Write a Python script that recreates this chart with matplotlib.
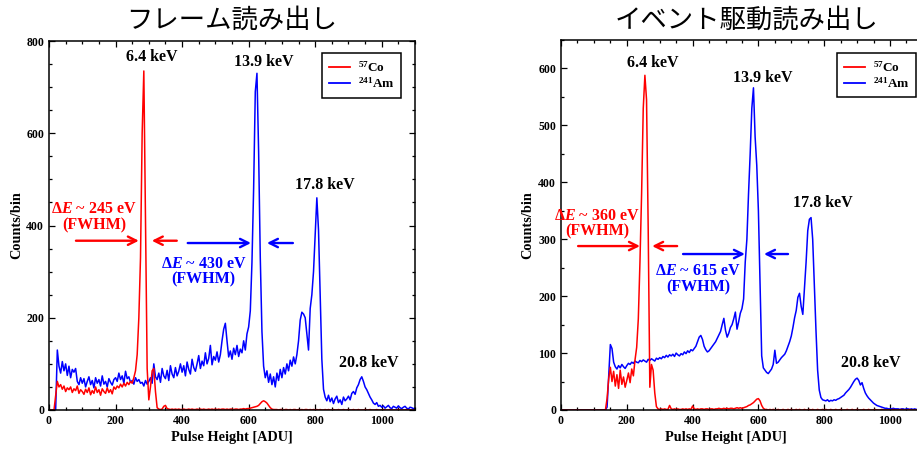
import numpy as np
import matplotlib
matplotlib.use("Agg")
import matplotlib.pyplot as plt
from matplotlib.ticker import MultipleLocator
from matplotlib.lines import Line2D

# ---------------- data (counts per 5-ADU bin, starting at 0 ADU) ----------------
BIN_WIDTH = 5

frame_co57 = [
    0, 0, 0, 0, 30, 62, 50, 55, 45, 52, 40, 48, 44, 50, 38, 46, 42, 52, 36, 44,
    40, 34, 45, 38, 48, 33, 42, 36, 50, 38, 44, 32, 46, 40, 36, 48, 38, 44, 35, 50,
    45, 52, 48, 56, 50, 58, 52, 60, 55, 62, 58, 70, 85, 120, 200, 330, 600, 735, 420, 90,
    22, 50, 85, 90, 40, 5, 2, 1, 2, 8, 10, 3, 2, 1, 2, 1, 2, 1, 2, 1,
    1, 2, 1, 1, 2, 1, 2, 1, 1, 2, 1, 2, 1, 2, 1, 1, 2, 1, 2, 1,
    2, 1, 2, 1, 2, 2, 1, 2, 1, 2, 2, 1, 2, 2, 1, 2, 2, 3, 2, 3,
    3, 4, 5, 6, 7, 8, 10, 14, 18, 20, 18, 15, 10, 5, 2, 1, 1, 1, 0, 1,
    1, 0, 1, 1, 0, 1, 0, 1, 1, 0, 1, 0, 1, 0, 1, 1, 0, 1, 0, 1,
    0, 1, 0, 1, 0, 0, 1, 0, 1, 0, 0, 1, 0, 0, 1, 0, 0, 1, 0, 0,
    1, 0, 0, 1, 0, 0, 1, 0, 0, 0, 1, 0, 0, 1, 0, 0, 0, 1, 0, 0,
    0, 1, 0, 0, 0, 1, 0, 0, 0, 0, 1, 0, 0, 0, 0, 1, 0, 0, 0, 0,
    0,
]

frame_am241 = [
    0, 0, 0, 0, 0, 130, 95, 80, 105, 85, 100, 75, 95, 70, 88, 82, 90, 62, 55, 70,
    58, 68, 50, 62, 72, 55, 64, 48, 70, 58, 66, 52, 74, 56, 62, 50, 68, 60, 54, 66,
    70, 62, 80, 66, 74, 58, 84, 68, 72, 60, 64, 56, 70, 62, 66, 58, 60, 52, 64, 56,
    62, 70, 58, 100, 72, 66, 80, 60, 90, 74, 68, 86, 64, 96, 78, 70, 92, 74, 84, 100,
    82, 96, 74, 104, 88, 78, 110, 92, 84, 100, 118, 90, 106, 96, 124, 100, 112, 140, 98, 116,
    108, 126, 104, 120, 150, 175, 188, 150, 115, 128, 110, 134, 120, 140, 116, 132, 124, 150, 130, 165,
    180, 215, 320, 480, 690, 730, 560, 330, 170, 95, 70, 85, 60, 78, 55, 72, 50, 80, 64, 88,
    70, 92, 78, 100, 85, 108, 95, 115, 100, 120, 150, 195, 212, 208, 200, 165, 130, 220, 250, 300,
    380, 460, 390, 250, 110, 45, 28, 20, 32, 18, 26, 14, 24, 30, 16, 22, 12, 28, 20, 24,
    30, 22, 36, 40, 34, 48, 55, 66, 72, 62, 50, 44, 36, 28, 22, 15, 12, 16, 8, 10,
    6, 9, 4, 7, 10, 5, 3, 8, 6, 4, 9, 5, 3, 6, 8, 4, 2, 6, 5, 3,
    4,
]

event_co57 = [
    0, 0, 0, 0, 0, 0, 0, 0, 0, 0, 0, 0, 0, 0, 0, 0, 0, 0, 0, 0,
    0, 0, 0, 0, 0, 0, 0, 0, 20, 55, 75, 50, 68, 42, 62, 38, 70, 45, 58, 40,
    52, 65, 48, 72, 60, 88, 110, 160, 260, 380, 530, 588, 545, 320, 40, 80, 70, 30, 6, 2,
    1, 2, 1, 2, 1, 1, 8, 2, 1, 2, 1, 2, 1, 1, 2, 1, 2, 1, 2, 1,
    7, 2, 1, 2, 1, 2, 2, 1, 2, 2, 1, 2, 2, 1, 2, 2, 3, 2, 2, 3,
    2, 3, 2, 3, 3, 2, 3, 4, 3, 4, 3, 4, 5, 6, 8, 9, 11, 13, 16, 19,
    20, 16, 8, 3, 1, 1, 0, 1, 0, 1, 0, 0, 1, 0, 0, 1, 0, 0, 1, 0,
    1, 0, 0, 1, 0, 1, 0, 0, 1, 0, 0, 1, 0, 1, 0, 0, 1, 0, 0, 1,
    0, 1, 0, 0, 1, 0, 0, 1, 0, 0, 1, 0, 0, 0, 1, 0, 0, 1, 0, 0,
    1, 0, 0, 0, 1, 0, 0, 1, 0, 0, 0, 1, 0, 0, 0, 1, 0, 0, 0, 0,
    0, 0, 1, 0, 0, 0, 0, 1, 0, 0, 0, 0, 1, 0, 0, 0, 0, 0, 1, 0,
    0,
]

event_am241 = [
    0, 0, 0, 0, 0, 0, 0, 0, 0, 0, 0, 0, 0, 0, 0, 0, 0, 0, 0, 0,
    0, 0, 0, 0, 0, 0, 0, 0, 5, 60, 115, 108, 84, 76, 72, 78, 74, 80, 76, 73,
    78, 82, 80, 84, 82, 86, 84, 83, 87, 85, 88, 86, 84, 89, 87, 90, 88, 86, 91, 89,
    92, 90, 94, 92, 96, 93, 97, 95, 98, 94, 100, 97, 95, 99, 97, 102, 99, 104, 101, 106,
    104, 108, 112, 120, 128, 131, 124, 112, 106, 102, 104, 108, 112, 116, 120, 126, 132, 138, 150, 161,
    140, 128, 135, 145, 150, 160, 172, 142, 155, 170, 178, 195, 260, 300, 380, 450, 530, 566, 480, 430,
    350, 220, 95, 74, 70, 66, 64, 68, 72, 80, 105, 82, 84, 88, 92, 95, 98, 104, 112, 120,
    130, 145, 162, 175, 198, 205, 182, 168, 215, 260, 315, 335, 338, 300, 220, 140, 70, 35, 22, 18,
    17, 16, 18, 15, 17, 16, 18, 17, 19, 20, 22, 24, 26, 30, 33, 36, 40, 45, 50, 54,
    56, 52, 44, 48, 38, 30, 25, 21, 18, 15, 12, 10, 8, 7, 6, 5, 4, 3, 3, 2,
    2, 2, 3, 2, 2, 2, 1, 2, 2, 1, 2, 2, 1, 2, 1, 2, 1, 1, 2, 1,
    1,
]

titles = ["フレーム読み出し", "イベント駆動読み出し"]
series_labels = [r"$^{57}$Co", r"$^{241}$Am"]
peak_labels = ["6.4 keV", "13.9 keV", "17.8 keV", "20.8 keV"]
fwhm_frame = ["245 eV", "430 eV"]
fwhm_event = ["360 eV", "615 eV"]
x_label = "Pulse Height [ADU]"
y_label = "Counts/bin"

# ---------------- style ----------------
plt.rcParams.update({
    "font.family": ["Liberation Serif", "DejaVu Sans"],
    "font.weight": "bold",
    "mathtext.fontset": "custom",
    "mathtext.rm": "Liberation Serif:bold",
    "mathtext.it": "Liberation Serif:italic:bold",
    "mathtext.bf": "Liberation Serif:bold",
    "axes.linewidth": 1.1,
})

W, H = 917, 450
fig = plt.figure(figsize=(W / 100, H / 100), dpi=100)

RED = "#ff0000"
BLUE = "#0000ff"


def px_rect(left, top, right, bottom):
    return [left / W, 1 - bottom / H, (right - left) / W, (bottom - top) / H]


def panel(ax, co, am, ymax, ymajor, title, peak_pos, fwhm_txt, fwhm_txt_pos,
          arrows, legend_anchor):
    x_co = BIN_WIDTH * np.arange(len(co))
    x_am = BIN_WIDTH * np.arange(len(am))
    ax.plot(x_am, am, color=BLUE, lw=1.1)
    ax.plot(x_co, co, color=RED, lw=1.1)
    ax.set_xlim(0, 1100)
    ax.set_ylim(0, ymax)
    ax.xaxis.set_major_locator(MultipleLocator(200))
    ax.xaxis.set_minor_locator(MultipleLocator(50))
    ax.yaxis.set_major_locator(MultipleLocator(ymajor))
    ax.yaxis.set_minor_locator(MultipleLocator(50))
    ax.tick_params(which="both", direction="in", top=True, right=True,
                   labelsize=8.5, width=0.9)
    ax.tick_params(which="major", length=4.5, pad=3.5)
    ax.tick_params(which="minor", length=2.5)
    for lab in ax.get_xticklabels() + ax.get_yticklabels():
        lab.set_fontweight("bold")

    for txt, (px, py) in zip(peak_labels, peak_pos):
        ax.text(px, py, txt, ha="center", va="center", fontsize=11.5,
                fontweight="bold", color="black")

    colors = [RED, BLUE]
    for txt, (tx, ty), c in zip(fwhm_txt, fwhm_txt_pos, colors):
        ax.text(tx, ty, r"$\mathit{\Delta E}$ ~ " + txt + "\n(FWHM)",
                ha="center", va="center", multialignment="center",
                fontsize=11.5, fontweight="bold", color=c, linespacing=1.0)

    for (x0, x1, y), c in zip(arrows, [RED, RED, BLUE, BLUE]):
        ax.annotate("", xy=(x1, y), xytext=(x0, y),
                    arrowprops=dict(arrowstyle="->", color=c, lw=1.7,
                                    mutation_scale=15, shrinkA=0, shrinkB=0))

    handles = [Line2D([], [], color=RED, lw=1.3), Line2D([], [], color=BLUE, lw=1.3)]
    leg = ax.legend(handles, series_labels, loc="upper right",
                    bbox_to_anchor=legend_anchor, fancybox=False, framealpha=1,
                    edgecolor="black", handlelength=1.6, handletextpad=0.6,
                    borderpad=0.5, labelspacing=0.15, borderaxespad=0,
                    prop={"family": "Liberation Serif", "weight": "bold", "size": 9.5})
    leg.get_frame().set_linewidth(1.1)


# left panel: frame readout
ax1 = fig.add_axes(px_rect(49, 41, 415, 410))
panel(ax1, frame_co57, frame_am241, 800, 200, titles[0],
      peak_pos=[(309, 766), (645, 755), (829, 488), (961, 102)],
      fwhm_txt=fwhm_frame,
      fwhm_txt_pos=[(135, 418), (465, 300)],
      arrows=[(81, 270, 367), (384, 309, 367), (417, 607, 362), (733, 655, 362)],
      legend_anchor=(0.962, 0.967))

# right panel: event-driven readout (extends past the image edge)
ax2 = fig.add_axes(px_rect(561, 40, 561 + 1100 * 0.329, 410))
panel(ax2, event_co57, event_am241, 650, 100, titles[1],
      peak_pos=[(280, 610), (614, 584), (796, 363), (942, 82)],
      fwhm_txt=fwhm_event,
      fwhm_txt_pos=[(109, 327), (416, 230)],
      arrows=[(52, 240, 288), (353, 277, 288), (371, 559, 274), (690, 617, 274)],
      legend_anchor=(0.981, 0.965))

# titles
fig.text(232 / W, 1 - 20 / H, titles[0], ha="center", va="center", fontsize=19,
         family=["Noto Sans CJK JP", "DejaVu Sans"], fontweight="normal")
fig.text(747 / W, 1 - 20 / H, titles[1], ha="center", va="center", fontsize=19,
         family=["Noto Sans CJK JP", "DejaVu Sans"], fontweight="normal")

# axis labels
for xc, yc_lab in [(232, 17), (739, 528)]:
    pass
fig.text(232 / W, 1 - 438 / H, x_label, ha="center", va="center", fontsize=10.3, fontweight="bold")
fig.text(726 / W, 1 - 438 / H, x_label, ha="center", va="center", fontsize=10.3, fontweight="bold")
fig.text(17 / W, 1 - 225 / H, y_label, ha="center", va="center", rotation=90,
         fontsize=10.3, fontweight="bold")
fig.text(528 / W, 1 - 225 / H, y_label, ha="center", va="center", rotation=90,
         fontsize=10.3, fontweight="bold")

fig.savefig("out.png", dpi=100)
